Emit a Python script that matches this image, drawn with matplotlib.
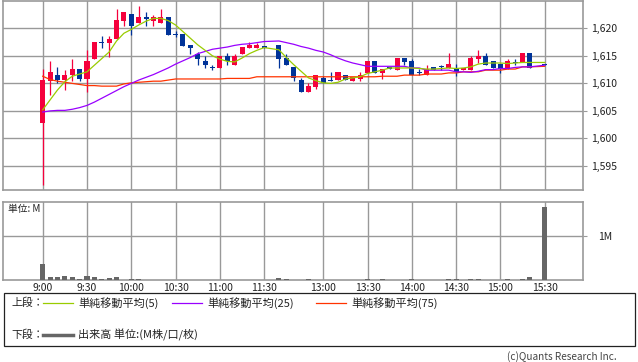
import matplotlib
matplotlib.use('Agg')
import matplotlib.pyplot as plt
from matplotlib.lines import Line2D
from matplotlib.patches import Rectangle

plt.rcParams['font.family'] = ['Noto Sans CJK JP', 'DejaVu Sans']

W, H = 638, 362

# bar times (5 min), morning + afternoon session, closing auction at 15:30
times = ['%d:%02d' % divmod(m, 60) for m in range(540, 691, 5)]
times += ['%d:%02d' % divmod(m, 60) for m in range(750, 921, 5)]
times += ['15:30']

opens = [1602.8, 1610.5, 1611.5, 1610.7, 1611.5, 1612.6, 1610.8, 1614.5, 1617.5, 1617.4,
         1618.0, 1621.4, 1622.6, 1620.9, 1622.0, 1621.4, 1620.9, 1622.0, 1618.9, 1618.9,
         1617.0, 1615.4, 1614.0, 1612.9, 1612.8, 1615.0, 1613.4, 1615.4, 1616.5, 1616.5,
         1616.6,
         1617.0, 1614.6, 1613.0, 1610.6, 1608.5, 1609.4, 1610.9, 1610.5, 1610.6, 1611.5,
         1610.4, 1610.8, 1611.9, 1614.0, 1611.9, 1613.0, 1612.4, 1614.6, 1614.0, 1612.0,
         1611.5, 1613.0, 1613.0, 1612.8, 1612.8, 1612.4, 1612.4, 1614.5, 1615.0, 1614.0,
         1613.5, 1612.6, 1613.8, 1613.9, 1615.5,
         1613.4]
highs = [1612.6, 1614.0, 1613.0, 1612.5, 1614.5, 1612.6, 1616.0, 1617.5, 1618.6, 1618.6,
         1623.5, 1622.9, 1622.6, 1624.1, 1622.9, 1622.5, 1623.5, 1622.0, 1619.5, 1618.9,
         1617.0, 1615.7, 1615.0, 1613.4, 1615.0, 1615.5, 1615.4, 1616.6, 1617.5, 1617.4,
         1616.6,
         1617.0, 1615.4, 1613.0, 1610.9, 1610.0, 1611.5, 1611.4, 1612.0, 1612.0, 1611.5,
         1611.1, 1612.1, 1614.0, 1614.0, 1612.6, 1613.0, 1614.6, 1614.6, 1614.4, 1612.6,
         1613.4, 1613.0, 1613.4, 1615.6, 1613.5, 1612.8, 1615.0, 1616.0, 1615.5, 1614.0,
         1613.5, 1614.5, 1614.5, 1615.5, 1615.5,
         1613.5]
lows = [1591.5, 1607.9, 1610.0, 1608.8, 1610.5, 1610.5, 1608.5, 1614.5, 1616.5, 1614.8,
        1618.0, 1620.5, 1618.8, 1620.9, 1620.5, 1620.5, 1620.9, 1618.8, 1618.4, 1616.8,
        1615.4, 1613.4, 1612.8, 1612.4, 1612.8, 1613.4, 1613.4, 1615.4, 1616.5, 1616.5,
        1616.4,
        1612.8, 1613.4, 1610.5, 1608.5, 1608.5, 1608.9, 1610.1, 1610.5, 1610.6, 1610.6,
        1610.4, 1610.4, 1611.9, 1611.9, 1610.8, 1612.6, 1612.4, 1613.3, 1611.5, 1611.5,
        1611.5, 1612.5, 1612.4, 1612.8, 1611.4, 1612.4, 1612.4, 1613.7, 1613.4, 1612.8,
        1611.9, 1612.6, 1613.3, 1613.9, 1612.8,
        1613.3]
closes = [1610.6, 1612.1, 1610.7, 1611.5, 1612.6, 1610.8, 1614.0, 1617.5, 1617.5, 1618.0,
          1621.5, 1622.9, 1620.5, 1622.0, 1621.6, 1622.0, 1622.0, 1618.8, 1618.9, 1616.8,
          1616.5, 1614.4, 1613.4, 1612.9, 1615.0, 1614.0, 1615.0, 1616.6, 1617.0, 1617.0,
          1616.5,
          1614.5, 1613.4, 1610.9, 1608.5, 1609.5, 1611.5, 1610.1, 1610.5, 1612.0, 1610.6,
          1611.1, 1611.5, 1614.0, 1611.9, 1612.6, 1612.6, 1614.6, 1613.9, 1611.5, 1612.0,
          1612.6, 1612.5, 1613.0, 1613.5, 1612.1, 1612.8, 1614.6, 1615.0, 1613.4, 1612.8,
          1612.7, 1614.0, 1613.8, 1615.5, 1612.8,
          1613.4]

ma5 = [1605.2, 1607.0, 1608.8, 1610.3, 1611.3, 1611.7, 1612.1, 1613.3, 1614.5, 1615.7,
       1617.7, 1619.1, 1619.8, 1620.6, 1621.3, 1621.8, 1621.8, 1621.4, 1620.6, 1619.4,
       1618.2, 1617.0, 1616.0, 1615.0, 1614.4, 1614.0, 1613.9, 1614.6, 1615.4, 1616.0,
       1616.5,
       1616.1, 1614.7, 1613.4, 1612.2, 1611.0, 1610.5, 1610.1, 1610.0, 1610.2, 1610.8,
       1611.0, 1611.2, 1611.8, 1612.1, 1612.4, 1612.8, 1612.8, 1612.8, 1612.8, 1612.7,
       1612.6, 1612.6, 1612.7, 1612.8, 1612.7, 1612.8, 1613.0, 1613.5, 1613.7, 1613.7,
       1613.7, 1613.6, 1613.7, 1613.8, 1613.8,
       1613.8]
ma25 = [1604.8, 1605.0, 1605.1, 1605.1, 1605.3, 1605.6, 1606.0, 1606.6, 1607.3, 1608.0,
        1608.7, 1609.4, 1610.0, 1610.6, 1611.1, 1611.6, 1612.2, 1612.8, 1613.5, 1614.1,
        1614.7, 1615.4, 1615.8, 1616.2, 1616.4, 1616.6, 1616.9, 1617.1, 1617.2, 1617.4,
        1617.6,
        1617.7, 1617.4, 1617.1, 1616.7, 1616.4, 1616.0, 1615.7, 1615.2, 1614.6, 1614.1,
        1613.7, 1613.4, 1613.1, 1613.1, 1613.1, 1613.1, 1613.1, 1613.1, 1612.8, 1612.8,
        1612.4, 1612.4, 1612.4, 1612.4, 1612.1, 1612.1, 1612.0, 1612.2, 1612.5, 1612.5,
        1612.7, 1612.7, 1612.9, 1613.0, 1613.0,
        1613.3]
ma75 = [1611.3, 1610.7, 1610.4, 1610.2, 1610.0, 1609.8, 1609.6, 1609.6, 1609.5, 1609.5,
        1609.5, 1609.9, 1610.1, 1610.2, 1610.3, 1610.4, 1610.4, 1610.6, 1610.8, 1610.8,
        1610.8, 1610.8, 1610.8, 1610.8, 1610.8, 1610.9, 1610.9, 1610.9, 1610.9, 1611.2,
        1611.2,
        1611.2, 1611.2, 1611.2, 1611.2, 1611.2, 1611.2, 1611.2, 1611.2, 1611.2, 1611.2,
        1611.2, 1611.2, 1611.2, 1611.2, 1611.3, 1611.3, 1611.3, 1611.5, 1611.5, 1611.5,
        1611.7, 1611.7, 1611.7, 1611.9, 1611.9, 1612.1, 1612.1, 1612.1, 1612.4, 1612.4,
        1612.4, 1612.6, 1612.6, 1613.0, 1613.0,
        1613.1]
volume = [0.37, 0.076, 0.076, 0.10, 0.076, 0.03, 0.10, 0.07, 0.03, 0.05,
          0.076, 0.015, 0.02, 0.02, 0.004, 0.004, 0.004, 0.004, 0.004, 0.004,
          0.004, 0.004, 0.004, 0.004, 0.004, 0.004, 0.004, 0.004, 0.004, 0.004,
          0.004,
          0.05, 0.02, 0.005, 0.005, 0.02, 0.005, 0.005, 0.005, 0.005, 0.005,
          0.005, 0.005, 0.02, 0.005, 0.02, 0.005, 0.005, 0.005, 0.02, 0.005,
          0.005, 0.005, 0.005, 0.02, 0.02, 0.005, 0.02, 0.02, 0.005, 0.005,
          0.005, 0.02, 0.005, 0.02, 0.08,
          1.66]

tick_times = ['9:00', '9:30', '10:00', '10:30', '11:00', '11:30',
              '13:00', '13:30', '14:00', '14:30', '15:00', '15:30']
price_ticks = [1595, 1600, 1605, 1610, 1615, 1620]

UP = '#f5003c'
DOWN = '#003399'
GRID = '#999999'


def slot(t):
    h, m = map(int, t.split(':'))
    mins = h * 60 + m
    if mins <= 690:
        return (mins - 540) / 5
    return 32 + (mins - 750) / 5


xs = [slot(t) for t in times]
tick_x = [slot(t) for t in tick_times]


def fx(px):
    return px / W


def fy(py):
    return 1 - py / H


fig = plt.figure(figsize=(W / 100, H / 100), dpi=100)

xlim = (-5.38, 73.19)

# ---- price panel
ax = fig.add_axes([fx(3), fy(190), fx(580), 189.5 / H])
ax.set_xlim(*xlim)
ax.set_ylim(1590.64, 1625.05)
for s in ax.spines.values():
    s.set_color(GRID)
    s.set_linewidth(1.2)
ax.set_xticks(tick_x)
ax.set_xticklabels([])
ax.set_yticks(price_ticks)
ax.set_yticklabels(['{:,}'.format(p) for p in price_ticks])
ax.yaxis.tick_right()
ax.tick_params(axis='x', length=0)
ax.tick_params(axis='y', length=3, color=GRID, labelsize=7.5, pad=3, labelcolor='#222222')
ax.grid(True, color=GRID, lw=1.0)
ax.set_axisbelow(True)

bw = 0.68
for x, o, h, l, c in zip(xs, opens, highs, lows, closes):
    col = UP if c > o else DOWN
    ax.vlines(x, l, h, color=col, lw=0.9, zorder=2)
    ax.bar(x, max(abs(c - o), 0.2), bottom=min(o, c) if c != o else o - 0.1,
           width=bw, color=col, lw=0, zorder=3)

ax.plot(xs, ma75, color='#ff3300', lw=0.9, zorder=4)
ax.plot(xs, ma25, color='#9900ff', lw=0.9, zorder=4)
ax.plot(xs, ma5, color='#99cc00', lw=0.9, zorder=5)

# ---- volume panel
av = fig.add_axes([fx(3), fy(280.3), fx(580), 78.3 / H])
av.set_xlim(*xlim)
av.set_ylim(0, 1.77)
for s in av.spines.values():
    s.set_color(GRID)
    s.set_linewidth(1.2)
av.set_xticks(tick_x)
av.set_xticklabels(tick_times)
av.set_yticks([1])
av.set_yticklabels(['1M'])
av.yaxis.tick_right()
av.tick_params(axis='x', length=0, labelsize=7.5, pad=2, labelcolor='#222222')
av.tick_params(axis='y', length=3, color=GRID, labelsize=7.5, pad=8, labelcolor='#222222')
av.grid(True, color=GRID, lw=1.0)
av.set_axisbelow(True)
av.bar(xs, volume, width=bw, color='#666666', lw=0, zorder=3)
fig.text(fx(8), fy(209), '単位: M', fontsize=7, va='center', ha='left', color='#222222')

# ---- legend box
fig.add_artist(Rectangle((fx(3.5), fy(346)), fx(631.5), 53 / H, transform=fig.transFigure,
                         fill=False, edgecolor='#222222', lw=0.9))
row1, row2 = fy(303), fy(335)
fig.text(fx(11), row1, '上段：', fontsize=7.8, va='center', ha='left', color='#222222')
fig.text(fx(11), row2, '下段：', fontsize=7.8, va='center', ha='left', color='#222222')
legend_items = [(43, '#99cc00', '単純移動平均(5)'),
                (172, '#9900ff', '単純移動平均(25)'),
                (316, '#ff3300', '単純移動平均(75)')]
for x0, col, label in legend_items:
    fig.add_artist(Line2D([fx(x0), fx(x0 + 30)], [row1, row1], transform=fig.transFigure,
                          color=col, lw=0.9))
    fig.text(fx(x0 + 35), row1, label, fontsize=8, va='center', ha='left', color='#222222')
fig.add_artist(Line2D([fx(43), fx(73)], [row2, row2], transform=fig.transFigure,
                      color='#666666', lw=2.5))
fig.text(fx(78), row2, '出来高 単位:(M株/口/枚)', fontsize=8, va='center', ha='left',
         color='#222222')

fig.text(fx(617), fy(357), '(c)Quants Research Inc.', fontsize=7.2, va='center', ha='right',
         color='#444444')

fig.savefig('out.png', dpi=100)
